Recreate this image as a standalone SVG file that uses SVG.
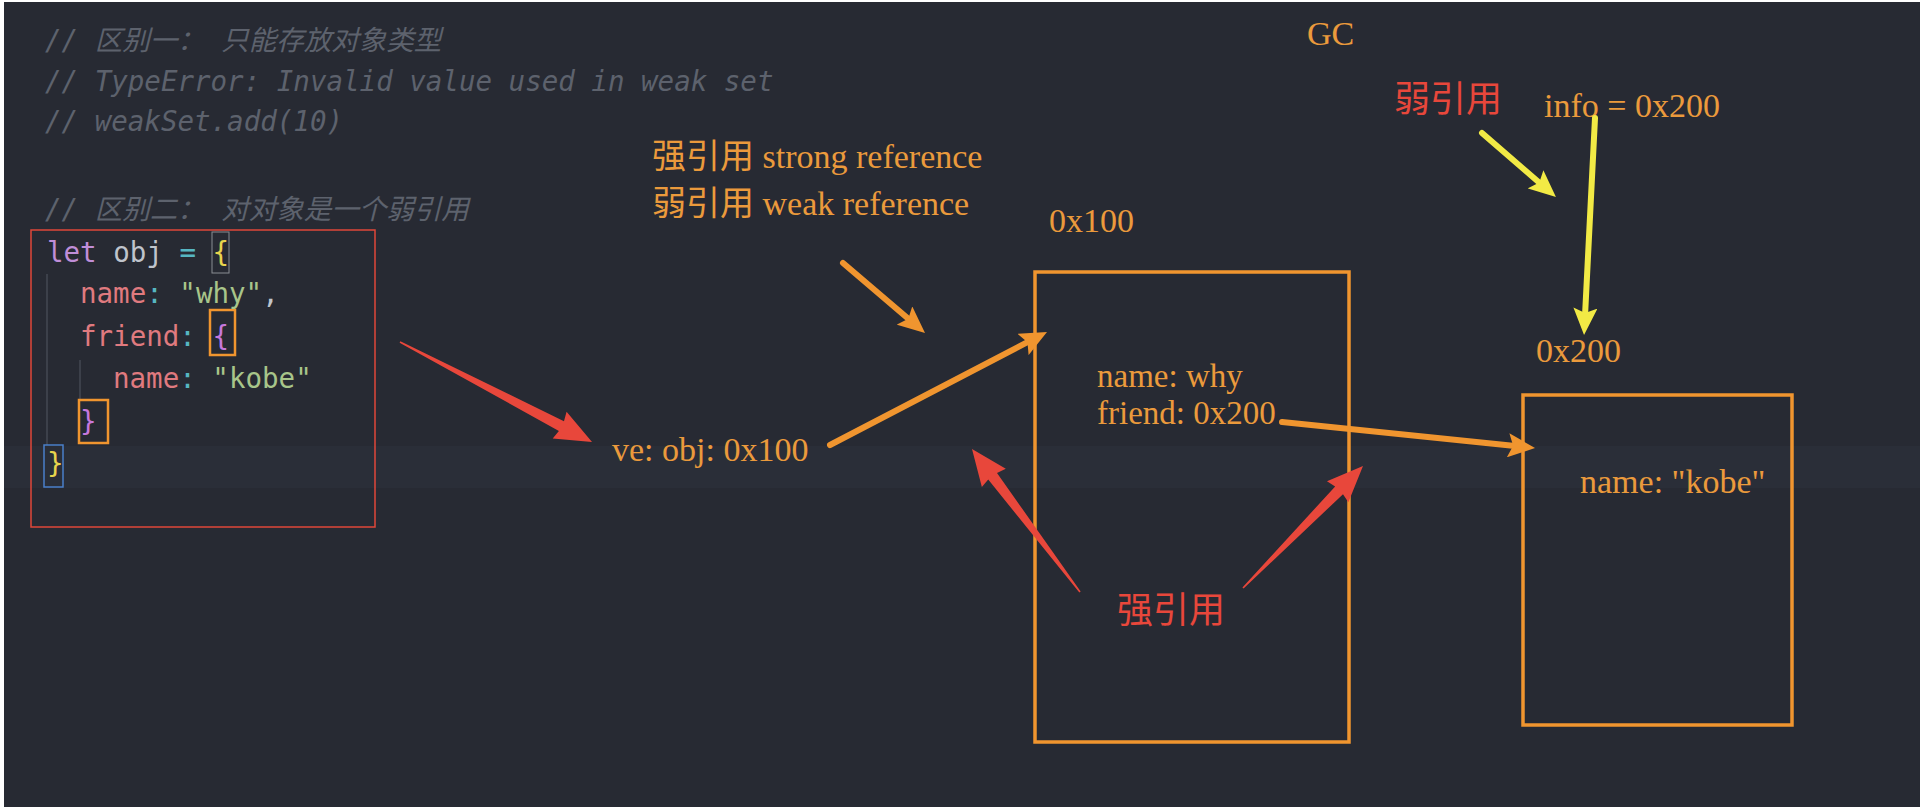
<svg xmlns="http://www.w3.org/2000/svg" width="1923" height="812" viewBox="0 0 1923 812">
<defs>
<style>
.cm{font-family:"DejaVu Sans Mono","Noto Sans CJK SC",monospace;font-size:27.5px;font-style:italic;fill:#5d626d}
.code{font-family:"DejaVu Sans Mono","Noto Sans CJK SC",monospace;font-size:27.5px;fill:#bfc4cc}
.kw{fill:#c08ed8}.pr{fill:#e07a7f}.pu{fill:#56b6c2}.st{fill:#a8c58a}.b1{fill:#e8d44d}.b2{fill:#c678dd}
.lbl{font-family:"Liberation Serif","Noto Sans CJK SC",serif;font-size:34px;fill:#eb9a3c}
.sm{font-size:33px}
.red{font-family:"Noto Sans CJK SC",sans-serif;font-size:36px;fill:#e8473b}
.box{fill:none;stroke:#f0952f;stroke-width:3.5}
.oa{fill:none;stroke:#f0952f;stroke-width:6;stroke-linecap:round;marker-end:url(#ho)}
.ya{fill:none;stroke:#f2ea45;stroke-width:6;stroke-linecap:round;marker-end:url(#hy)}
.ra{fill:#e8473b}
</style>
<marker id="ho" markerUnits="userSpaceOnUse" markerWidth="27" markerHeight="24" viewBox="0 0 27 24" refX="12" refY="12" orient="auto"><path d="M0,0 L27,12 L0,24 L5,12 Z" fill="#f0952f"/></marker>
<marker id="hy" markerUnits="userSpaceOnUse" markerWidth="27" markerHeight="24" viewBox="0 0 27 24" refX="12" refY="12" orient="auto"><path d="M0,0 L27,12 L0,24 L5,12 Z" fill="#f2ea45"/></marker>
</defs>
<rect x="0" y="0" width="1923" height="812" fill="#ffffff"/>
<rect x="4" y="2" width="1916" height="805" fill="#272a33"/>
<rect x="4" y="446" width="1916" height="42" fill="#2a2e38"/>

<g id="comments">
<text class="cm" x="45" y="50">// 区别一： 只能存放对象类型</text>
<text class="cm" x="45" y="91">// TypeError: Invalid value used in weak set</text>
<text class="cm" x="45" y="131">// weakSet.add(10)</text>
<text class="cm" x="45" y="219">// 区别二： 对对象是一个弱引用</text>
</g>

<g id="code-block">
<rect x="31" y="230" width="344" height="297" fill="none" stroke="#e0473a" stroke-width="1.5"/>
<line x1="47" y1="274" x2="47" y2="445" stroke="#454953" stroke-width="1.5"/>
<line x1="80" y1="360" x2="80" y2="400" stroke="#454953" stroke-width="1.5"/>
<rect x="212" y="232" width="17" height="41" fill="none" stroke="#8a8d94" stroke-width="1"/>
<rect x="210" y="310" width="25" height="45" fill="none" stroke="#f0952f" stroke-width="2.5"/>
<rect x="79" y="400" width="29" height="43" fill="none" stroke="#f0952f" stroke-width="2.5"/>
<rect x="44" y="445" width="19" height="42" fill="none" stroke="#4a7fc9" stroke-width="1.5"/>
<text class="code" x="47" y="262" xml:space="preserve"><tspan class="kw">let</tspan> obj <tspan class="pu">=</tspan> <tspan class="b1">{</tspan></text>
<text class="code" x="80" y="303" xml:space="preserve"><tspan class="pr">name</tspan><tspan class="pu">:</tspan> <tspan class="st">"why"</tspan>,</text>
<text class="code" x="80" y="346" xml:space="preserve"><tspan class="pr">friend</tspan><tspan class="pu">:</tspan> <tspan class="b2">{</tspan></text>
<text class="code" x="113" y="388" xml:space="preserve"><tspan class="pr">name</tspan><tspan class="pu">:</tspan> <tspan class="st">"kobe"</tspan></text>
<text class="code" x="80" y="431"><tspan class="b2">}</tspan></text>
<text class="code" x="47" y="473"><tspan class="b1">}</tspan></text>
</g>

<g id="legend">
<text class="lbl" x="652" y="168">强引用 strong reference</text>
<text class="lbl" x="652" y="215">弱引用 weak reference</text>
</g>

<g id="gc-label"><text class="lbl" x="1307" y="45">GC</text></g>

<g id="var-obj"><text class="lbl" x="612" y="461">ve: obj: 0x100</text></g>

<g id="obj-0x100">
<text class="lbl" x="1049" y="232">0x100</text>
<rect class="box" x="1035" y="272" width="314" height="470"/>
<text class="lbl sm" x="1097" y="387">name: why</text>
<text class="lbl sm" x="1097" y="424">friend: 0x200</text>
</g>

<g id="obj-0x200">
<text class="lbl" x="1536" y="362">0x200</text>
<rect class="box" x="1523" y="395" width="269" height="330"/>
<text class="lbl" x="1580" y="493">name: "kobe"</text>
</g>

<g id="var-info"><text class="lbl" x="1544" y="117">info = 0x200</text></g>

<g id="weak-label"><text class="red" x="1394" y="112">弱引用</text></g>
<g id="strong-label"><text class="red" x="1117" y="623">强引用</text></g>

<g id="connectors">
<path class="oa" d="M843,263 L913.6,323.3"/>
<path class="oa" d="M830,445 L1033.7,338.9"/>
<path class="oa" d="M1282,422 L1520.1,446.5"/>
<path class="ya" d="M1482,133 L1544.6,187.2"/>
<path class="ya" d="M1595,118 L1584.8,320"/>
<path class="ra" transform="translate(400,342) rotate(27.5)" d="M0,-0.8 L182,-5.5 L180,-15 L216.5,0 L180,15 L182,5.5 L0,0.8 Z"/>
<path class="ra" transform="translate(1080,592) rotate(-127.06)" d="M0,-0.8 L145,-5.5 L143,-15 L179.2,0 L143,15 L145,5.5 L0,0.8 Z"/>
<path class="ra" transform="translate(1243,588) rotate(-45.47)" d="M0,-0.8 L137,-5.5 L135,-15 L171.1,0 L135,15 L137,5.5 L0,0.8 Z"/>
</g>
</svg>
